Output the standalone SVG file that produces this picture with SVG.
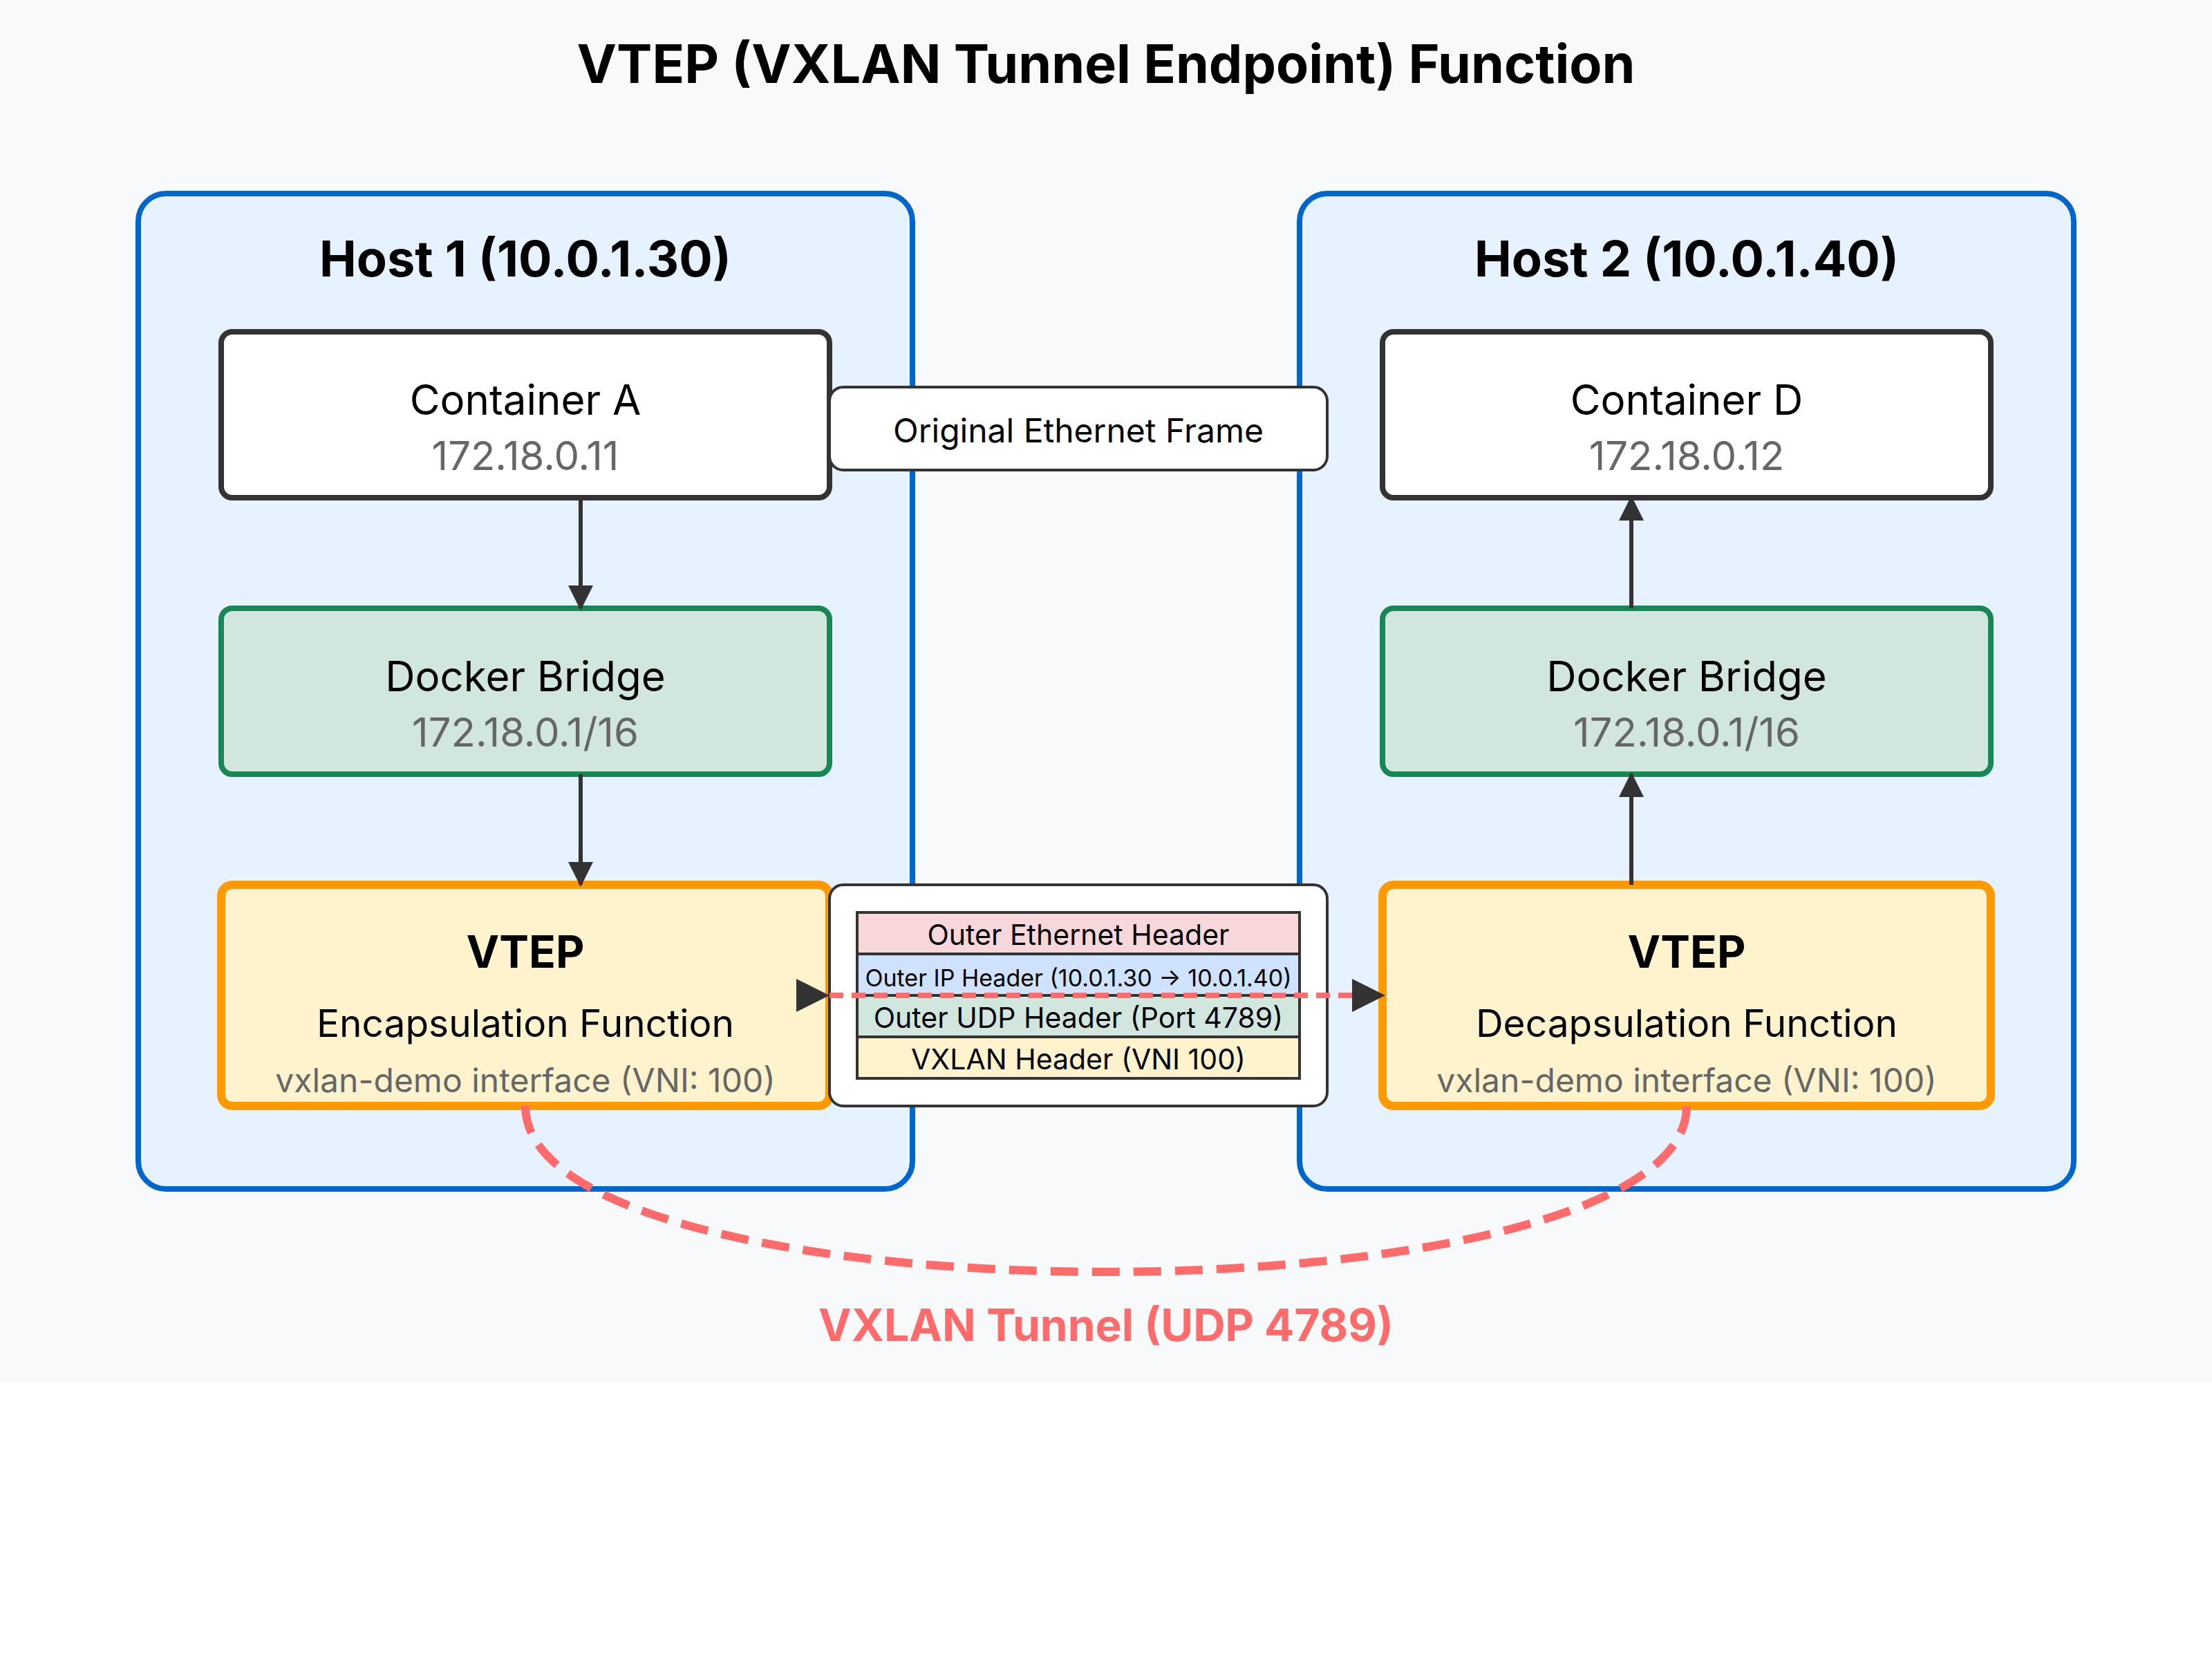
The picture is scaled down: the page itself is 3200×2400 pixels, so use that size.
<svg xmlns="http://www.w3.org/2000/svg" width="3200" height="2400" viewBox="0 0 3200 2400">
  <defs>
    <marker id="arrowEnd" markerUnits="strokeWidth" markerWidth="6" markerHeight="6" viewBox="0 0 6 6" refX="5.5" refY="3" orient="auto">
      <path d="M0,0 L6,3 L0,6 z" fill="#333333"/>
    </marker>
    <marker id="arrowStart" markerUnits="strokeWidth" markerWidth="6" markerHeight="6" viewBox="0 0 6 6" refX="6" refY="3" orient="auto">
      <path d="M0,0 L6,3 L0,6 z" fill="#333333"/>
    </marker>
    <style>
      text { font-family: Inter, "Noto Sans", "Liberation Sans", sans-serif; text-anchor: middle; }
      .title { font-size: 77px; font-weight: 700; fill: #000; }
      .host { fill: #e6f2ff; stroke: #0066cc; stroke-width: 8; }
      .hostLabel { font-size: 72px; font-weight: 700; fill: #000; }
      .container { fill: #ffffff; stroke: #333333; stroke-width: 8; }
      .bridge { fill: #d1e7dd; stroke: #198754; stroke-width: 8; }
      .vtep { fill: #fff3cd; stroke: #ff9900; stroke-width: 12; }
      .name { font-size: 60px; fill: #000; }
      .ip { font-size: 58px; fill: #666666; }
      .vtepTitle { font-size: 64px; font-weight: 700; fill: #000; }
      .func { font-size: 55px; fill: #000; }
      .iface { font-size: 48px; fill: #666666; }
      .frame { fill: #ffffff; stroke: #333333; stroke-width: 4; }
      .frameText { font-size: 48px; fill: #000; }
      .row { stroke: #333333; stroke-width: 4; }
      .rowText { font-size: 41px; fill: #000; }
      .rowSmall { font-size: 34px; fill: #000; }
      .arrow { stroke: #333333; stroke-width: 6; fill: none; }
      .encap { stroke: #ff6b6b; stroke-width: 8; stroke-dasharray: 20 12; fill: none; }
      .tunnel { stroke: #ff6b6b; stroke-width: 12; stroke-dasharray: 40 20; fill: none; }
      .tunnelLabel { font-size: 64px; font-weight: 700; fill: #ff6b6b; }
    </style>
  </defs>

  <rect x="0" y="0" width="3200" height="2400" fill="#ffffff"/>
  <rect x="0" y="0" width="3200" height="2000" fill="#f8f9fa"/>

  <text class="title" x="1600" y="120">VTEP (VXLAN Tunnel Endpoint) Function</text>

  <g id="host1">
    <rect class="host" x="200" y="280" width="1120" height="1440" rx="40"/>
    <text class="hostLabel" x="760" y="400">Host 1 (10.0.1.30)</text>
  </g>
  <g id="host2">
    <rect class="host" x="1880" y="280" width="1120" height="1440" rx="40"/>
    <text class="hostLabel" x="2440" y="400">Host 2 (10.0.1.40)</text>
  </g>

  <g id="containerA">
    <rect class="container" x="320" y="480" width="880" height="240" rx="16"/>
    <text class="name" x="760" y="600">Container A</text>
    <text class="ip" x="760" y="680">172.18.0.11</text>
  </g>
  <g id="bridge1">
    <rect class="bridge" x="320" y="880" width="880" height="240" rx="16"/>
    <text class="name" x="760" y="1000">Docker Bridge</text>
    <text class="ip" x="760" y="1080">172.18.0.1/16</text>
  </g>
  <g id="vtep1">
    <rect class="vtep" x="320" y="1280" width="880" height="320" rx="16"/>
    <text class="vtepTitle" x="760" y="1400">VTEP</text>
    <text class="func" x="760" y="1500">Encapsulation Function</text>
    <text class="iface" x="760" y="1580">vxlan-demo interface (VNI: 100)</text>
  </g>

  <g id="containerD">
    <rect class="container" x="2000" y="480" width="880" height="240" rx="16"/>
    <text class="name" x="2440" y="600">Container D</text>
    <text class="ip" x="2440" y="680">172.18.0.12</text>
  </g>
  <g id="bridge2">
    <rect class="bridge" x="2000" y="880" width="880" height="240" rx="16"/>
    <text class="name" x="2440" y="1000">Docker Bridge</text>
    <text class="ip" x="2440" y="1080">172.18.0.1/16</text>
  </g>
  <g id="vtep2">
    <rect class="vtep" x="2000" y="1280" width="880" height="320" rx="16"/>
    <text class="vtepTitle" x="2440" y="1400">VTEP</text>
    <text class="func" x="2440" y="1500">Decapsulation Function</text>
    <text class="iface" x="2440" y="1580">vxlan-demo interface (VNI: 100)</text>
  </g>

  <g id="originalFrame">
    <rect class="frame" x="1200" y="560" width="720" height="120" rx="20"/>
    <text class="frameText" x="1560" y="640">Original Ethernet Frame</text>
  </g>

  <g id="packet">
    <rect class="frame" x="1200" y="1280" width="720" height="320" rx="20"/>
    <rect class="row" x="1240" y="1320" width="640" height="60" fill="#f8d7da"/>
    <text class="rowText" x="1560" y="1367">Outer Ethernet Header</text>
    <rect class="row" x="1240" y="1380" width="640" height="60" fill="#cfe2ff"/>
    <text class="rowSmall" x="1560" y="1427">Outer IP Header (10.0.1.30 → 10.0.1.40)</text>
    <rect class="row" x="1240" y="1440" width="640" height="60" fill="#d1e7dd"/>
    <text class="rowText" x="1560" y="1487">Outer UDP Header (Port 4789)</text>
    <rect class="row" x="1240" y="1500" width="640" height="60" fill="#fff3cd"/>
    <text class="rowText" x="1560" y="1547">VXLAN Header (VNI 100)</text>
  </g>

  <g id="connectors">
    <path class="arrow" d="M840,720 L840,880" marker-end="url(#arrowEnd)"/>
    <path class="arrow" d="M840,1120 L840,1280" marker-end="url(#arrowEnd)"/>
    <path class="arrow" d="M2360,880 L2360,720" marker-end="url(#arrowEnd)"/>
    <path class="arrow" d="M2360,1280 L2360,1120" marker-end="url(#arrowEnd)"/>
    <path class="encap" d="M1200,1440 L2000,1440" marker-start="url(#arrowStart)" marker-end="url(#arrowEnd)"/>
    <path class="tunnel" d="M760,1600 C760,1920 2440,1920 2440,1600"/>
  </g>

  <g id="tunnelLabel">
    <text class="tunnelLabel" x="1600" y="1940">VXLAN Tunnel (UDP 4789)</text>
  </g>
</svg>
